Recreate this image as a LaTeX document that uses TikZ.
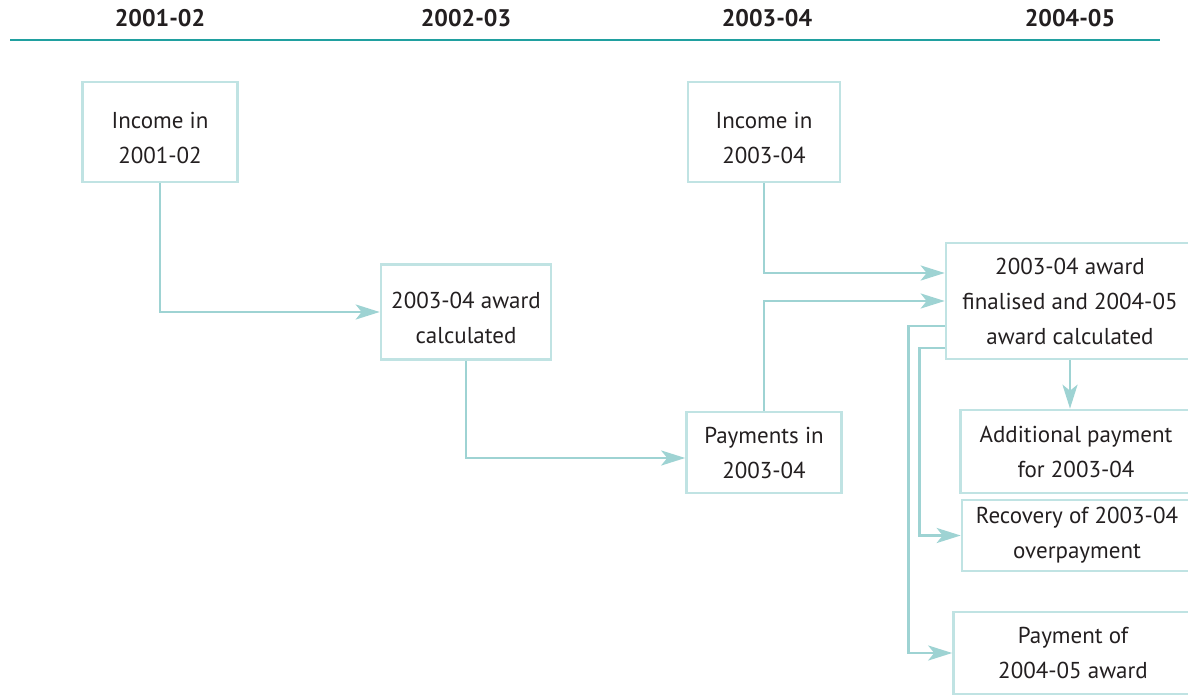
\documentclass[tikz,border=0pt]{standalone}
\usepackage{fontspec}
\setmainfont{PT Sans}
\usetikzlibrary{arrows.meta,positioning}
\definecolor{boxline}{RGB}{192,227,227}
\definecolor{arrowline}{RGB}{158,211,211}
\definecolor{ruleline}{RGB}{32,160,160}
\definecolor{ink}{RGB}{35,31,32}
\newcommand{\topgap}{\rule{0pt}{14pt}}
\tikzstyle{line} = [draw=arrowline, line width=1.4pt, -{Stealth[length=12pt, width=7.5pt, inset=3pt]}]
\tikzstyle{box} = [rectangle, draw=boxline, line width=1.3pt, align=center, text=ink, inner sep=2pt]
\tikzstyle{year} = [text=ink, font=\fontsize{12}{14}\bfseries\selectfont]

\begin{document}
\begin{tikzpicture}[x=1pt, y=1pt, font=\fontsize{11.5}{17.5}\selectfont]
		\useasboundingbox (0,0) rectangle (594,349);
		\node[box, minimum width=77.5pt, minimum height=50pt] (inc1) at (80,283) {\topgap Income in\\2001-02};
		\node[box, right of=inc1, node distance=153pt, yshift=-90pt, minimum width=85pt, minimum height=47.5pt] (calc1) {\topgap 2003-04 award\\calculated};
		\node[box, right of=inc1, node distance=302pt, minimum width=76pt, minimum height=50pt] (inc3) {\topgap Income in\\2003-04};
		\node[box, below of=inc3, node distance=160.25pt, minimum width=77.5pt, minimum height=40.5pt] (pay3) {Payments in\\2003-04};
		
		\node[box, right of=inc3, node distance=153pt, yshift=-84.5pt, minimum width=124pt, minimum height=58pt] (final) {2003-04 award\\finalised and 2004-05\\award calculated};
		\node[box, below of=final, node distance=75.25pt, xshift=3pt, minimum width=115.5pt, minimum height=41.5pt] (extra) {Additional payment\\for 2003-04};
		\node[box, below of=extra, node distance=42pt, xshift=0.5pt, minimum width=115pt, minimum height=35.5pt] (recover) {Recovery of 2003-04\\overpayment};
		\node[box, below of=recover, node distance=58.75pt, xshift=-2pt, minimum width=119.5pt, minimum height=41pt] (paynext) {Payment of\\2004-05 award};
		
		% year headings
		\node[year, above of=inc1, node distance=57pt] (y1) {2001-02};
		\node[year, above of=calc1, node distance=147pt] (y2) {2002-03};
		\node[year, above of=inc3, node distance=57pt, xshift=1.5pt] (y3) {2003-04};
		\node[year, above of=final, node distance=141.5pt] (y4) {2004-05};
		\coordinate (ruleL) at (5,329);
		\coordinate (ruleR) at (580,329);
		\draw[ruleline, line width=1pt] (ruleL) -- (ruleR);
		
		\path [line] (inc1.south) |- (calc1.west);
		\path [line] (calc1.south) |- ([yshift=-2.75pt]pay3.west);
		\path [line] (inc3.south) |- ([yshift=14pt]final.west);
		\path [line] (pay3.north) |- (final.west);
		
		\path [line] (final.south) -- (final.south |- extra.north);
		\path [line] ([yshift=-23.5pt]final.west) -- ++(-12.5pt,0) |- (recover.west);
		\path [line] ([yshift=-12.5pt]final.west) -- ++(-18pt,0) |- (paynext.west);
\end{tikzpicture}
\end{document}
